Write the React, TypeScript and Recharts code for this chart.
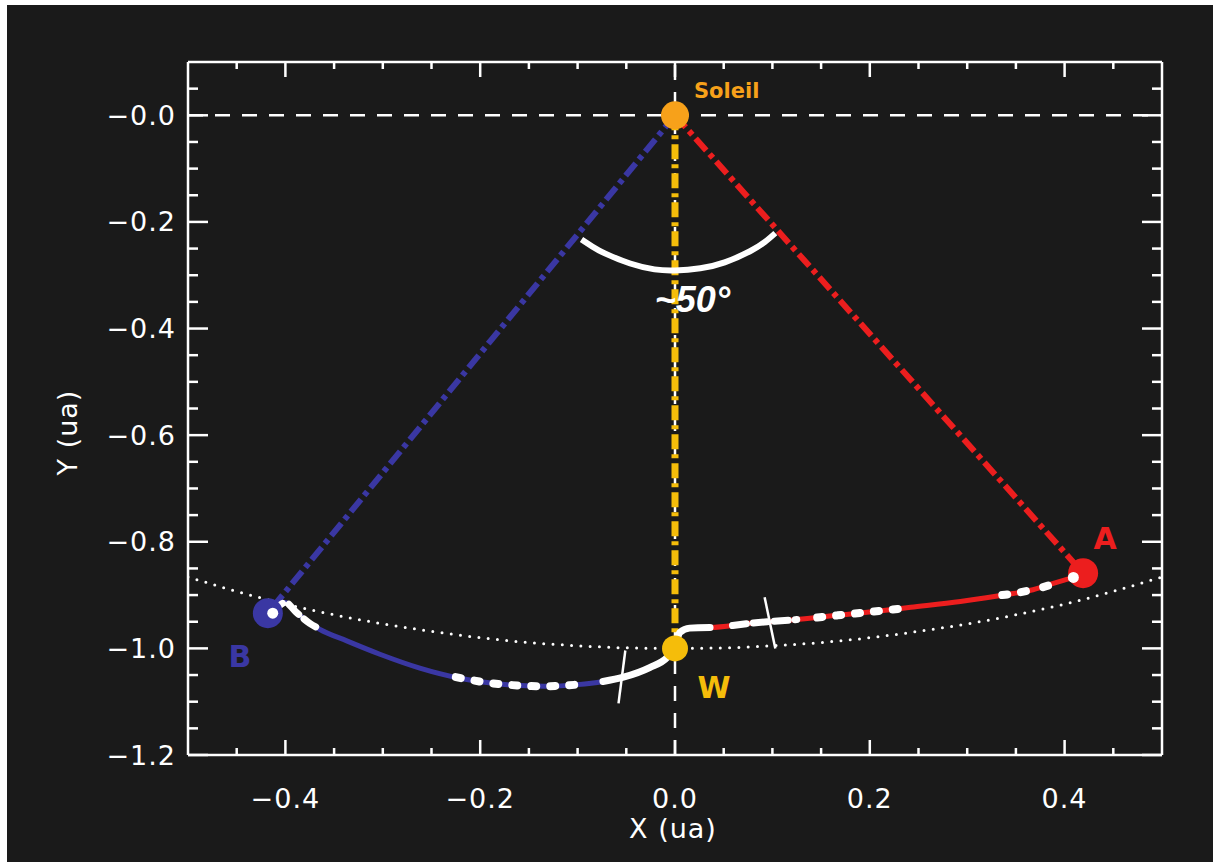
import { ComposedChart, Line, XAxis, YAxis, ReferenceLine, Scatter } from 'recharts'

// axis ticks
const xTicks = [-0.45, -0.4, -0.35, -0.3, -0.25, -0.2, -0.15, -0.1, -0.05, 0, 0.05, 0.1, 0.15, 0.2, 0.25, 0.3, 0.35, 0.4, 0.45]
const xMajor = [-0.4, -0.2, 0, 0.2, 0.4]
const yTicks = [0.05, 0, -0.05, -0.1, -0.15, -0.2, -0.25, -0.3, -0.35, -0.4, -0.45, -0.5, -0.55, -0.6, -0.65, -0.7, -0.75, -0.8, -0.85, -0.9, -0.95, -1.0, -1.05, -1.1, -1.15, -1.2]
const yMajor = [0, -0.2, -0.4, -0.6, -0.8, -1.0, -1.2]

// bodies
const bodyNames = ['Soleil', 'A', 'B', 'W']
const bodyX = [0, 0.419, -0.418, 0]
const bodyY = [0, -0.859, -0.934, -1.0]

// Earth orbit (dotted)
const orbitX = [-0.5, -0.45, -0.4, -0.35, -0.3, -0.25, -0.2, -0.15, -0.1, -0.05, 0, 0.05, 0.1, 0.15, 0.2, 0.25, 0.3, 0.35, 0.4, 0.45, 0.5]
const orbitY = [-0.866, -0.893, -0.917, -0.937, -0.954, -0.968, -0.98, -0.989, -0.995, -0.999, -1.0, -0.999, -0.995, -0.989, -0.98, -0.968, -0.954, -0.937, -0.917, -0.893, -0.866]

// angle arc (~50°)
const arcX = [-0.096, -0.085, -0.072, -0.046, -0.021, 0, 0.026, 0.051, 0.077, 0.092, 0.103]
const arcY = [-0.233, -0.246, -0.259, -0.278, -0.289, -0.291, -0.287, -0.276, -0.255, -0.238, -0.221]

// trajectory B -> W (blue)
const blueX = [-0.413, -0.4, -0.389, -0.375, -0.365, -0.337, -0.303, -0.262, -0.221, -0.18, -0.134, -0.1, -0.074, -0.053, -0.026, -0.008, 0]
const blueY = [-0.934, -0.914, -0.932, -0.953, -0.964, -0.986, -1.011, -1.037, -1.056, -1.067, -1.071, -1.068, -1.062, -1.054, -1.036, -1.017, -0.998]

// trajectory W -> A (red)
const redX = [0, 0.005, 0.015, 0.036, 0.077, 0.118, 0.167, 0.214, 0.242, 0.293, 0.341, 0.365, 0.385, 0.409]
const redY = [-0.998, -0.97, -0.962, -0.961, -0.953, -0.947, -0.938, -0.929, -0.923, -0.912, -0.899, -0.891, -0.88, -0.867]

// white overlays on the trajectories (null = gap)
const wDashX = [-0.413, -0.4, -0.389, -0.375, -0.364, -0.2, 0.059, 0.077, 0.118, 0.125]
const wDashY = [-0.934, -0.914, -0.932, -0.953, -0.964, null, -0.957, -0.953, -0.947, -0.946]
const wDotX = [-0.225, -0.18, -0.134, -0.1, 0.05, 0.146, 0.167, 0.214, 0.238, 0.3, 0.336, 0.341, 0.362, 0.37, 0.378, 0.393]
const wDotY = [-1.054, -1.067, -1.071, -1.068, null, -0.942, -0.938, -0.929, -0.924, null, -0.9, -0.899, -0.892, null, -0.885, -0.877]
const wSolidX = [-0.074, -0.053, -0.026, -0.008, 0, 0.005, 0.015, 0.036]
const wSolidY = [-1.062, -1.054, -1.036, -1.017, -0.998, -0.97, -0.962, -0.961]

// trajectory end points and crossing marks
const endX = [-0.413, 0.409]
const endY = [-0.934, -0.867]
const crossX1 = [-0.051, 0.092]
const crossY1 = [-1.004, -0.904]
const crossX2 = [-0.058, 0.103]
const crossY2 = [-1.103, -1.0]

const zip = (xs: number[], ys: (number | null)[]) => xs.map((x, i) => ({ x, y: ys[i] }))

const bodies = bodyNames.map((name, i) => ({ name, x: bodyX[i], y: bodyY[i] }))
const orbit = zip(orbitX, orbitY)
const arc = zip(arcX, arcY)
const blueTrack = zip(blueX, blueY)
const redTrack = zip(redX, redY)
const wDash = zip(wDashX, wDashY)
const wDot = zip(wDotX, wDotY)
const wSolid = zip(wSolidX, wSolidY)
const ends = zip(endX, endY)
const toSun = (i: number) => [{ x: bodyX[0], y: bodyY[0] }, { x: bodyX[i], y: bodyY[i] }]

const BG = '#1a1a1a'
const WHITE = '#ffffff'
const BLUE = '#3a37a3'
const RED = '#ec1e1e'
const YELLOW = '#f5bd0a'
const ORANGE = '#f7a11a'
const FONT = '"DejaVu Sans", sans-serif'

const bodyStyle: Record<string, any> = {
  Soleil: { color: ORANGE, r: 14, dx: 19, dy: -24, size: 21, anchor: 'start' },
  A: { color: RED, r: 15, dx: 22, dy: -35, size: 30, anchor: 'middle' },
  B: { color: BLUE, r: 15, dx: -28, dy: 43, size: 30, anchor: 'middle' },
  W: { color: YELLOW, r: 13, dx: 39, dy: 39, size: 30, anchor: 'middle' },
}

const near = (v: number, list: number[]) => list.some((m) => Math.abs(m - v) < 1e-6)
const fmt = (v: number) => (v < 0 ? '\u2212' : '') + Math.abs(v).toFixed(1)
const fmtY = (v: number) => '\u2212' + Math.abs(v).toFixed(1)

const tickText = { fill: WHITE, fontSize: 27, fontFamily: FONT, letterSpacing: 1 }

function BottomTick(props: any) {
  const { x, y, payload } = props
  const major = near(payload.value, xMajor)
  return (
    <g>
      <line x1={x} y1={y} x2={x} y2={y - (major ? 15 : 7)} stroke={WHITE} strokeWidth={2.5} />
      {major && (
        <text x={x} y={y + 43} textAnchor="middle" dominantBaseline="central" {...tickText}>
          {fmt(payload.value)}
        </text>
      )}
    </g>
  )
}

function TopTick(props: any) {
  const { x, y, payload } = props
  const major = near(payload.value, xMajor)
  return <line x1={x} y1={y} x2={x} y2={y + (major ? 15 : 7)} stroke={WHITE} strokeWidth={2.5} />
}

function LeftTick(props: any) {
  const { x, y, payload } = props
  const major = near(payload.value, yMajor)
  return (
    <g>
      <line x1={x} y1={y} x2={x + (major ? 20 : 10)} y2={y} stroke={WHITE} strokeWidth={2.5} />
      {major && (
        <text x={x - 12} y={y} textAnchor="end" dominantBaseline="central" {...tickText}>
          {fmtY(payload.value)}
        </text>
      )}
    </g>
  )
}

function RightTick(props: any) {
  const { x, y, payload } = props
  const major = near(payload.value, yMajor)
  return <line x1={x} y1={y} x2={x - (major ? 20 : 10)} y2={y} stroke={WHITE} strokeWidth={2.5} />
}

function BodyShape(props: any) {
  const { cx, cy, payload } = props
  const s = bodyStyle[payload.name]
  return (
    <g>
      <circle cx={cx} cy={cy} r={s.r} fill={s.color} />
      <text
        x={cx + s.dx}
        y={cy + s.dy}
        textAnchor={s.anchor}
        dominantBaseline="central"
        fill={s.color}
        fontSize={s.size}
        fontWeight="bold"
        fontFamily={FONT}
      >
        {payload.name}
      </text>
    </g>
  )
}

function EndDot(props: any) {
  const { cx, cy } = props
  return <circle cx={cx} cy={cy} r={5.5} fill={WHITE} />
}

function AngleLabel(props: any) {
  const { cx, cy } = props
  return (
    <text x={cx} y={cy} textAnchor="middle" dominantBaseline="central" fill={WHITE} fontSize={36} fontWeight="bold" fontStyle="italic" fontFamily='"Liberation Sans", sans-serif'>
      ~50°
    </text>
  )
}

const axisLine = { stroke: WHITE, strokeWidth: 2.5 }
const ids = { xAxisId: 'x', yAxisId: 'y' }

export default function App() {
  return (
    <div style={{ position: 'absolute', left: 0, top: 0, width: 1213, height: 866, background: '#fff' }}>
      <div style={{ position: 'absolute', left: 7, top: 5, width: 1206, height: 857, background: BG }} />
      <div style={{ position: 'absolute', left: 0, top: 0 }}>
        <ComposedChart width={1213} height={866} margin={{ top: 61, right: 50, bottom: 51, left: 68 }}>
          <XAxis
            xAxisId="x"
            type="number"
            dataKey="x"
            domain={[-0.5, 0.5]}
            allowDataOverflow
            ticks={xTicks}
            interval={0}
            tickSize={0}
            tickMargin={0}
            tickLine={false}
            axisLine={axisLine}
            tick={<BottomTick />}
            height={60}
            label={{
              content: (p: any) => (
                <text x={p.viewBox.x + p.viewBox.width / 2 - 2} y={p.viewBox.y + 73} textAnchor="middle" dominantBaseline="central" {...tickText}>
                  X (ua)
                </text>
              ),
            }}
          />
          <XAxis
            xAxisId="xt"
            orientation="top"
            type="number"
            dataKey="x"
            domain={[-0.5, 0.5]}
            allowDataOverflow
            ticks={xTicks}
            interval={0}
            tickSize={0}
            tickMargin={0}
            tickLine={false}
            axisLine={axisLine}
            tick={<TopTick />}
            height={1}
          />
          <YAxis
            yAxisId="y"
            type="number"
            dataKey="y"
            domain={[-1.2, 0.1]}
            allowDataOverflow
            ticks={yTicks}
            interval={0}
            tickSize={0}
            tickMargin={0}
            tickLine={false}
            axisLine={axisLine}
            tick={<LeftTick />}
            width={120}
            label={{
              content: (p: any) => {
                const cx = p.viewBox.x - 1
                const cy = p.viewBox.y + p.viewBox.height / 2 + 24
                return (
                  <text x={cx} y={cy} transform={`rotate(-90 ${cx} ${cy})`} textAnchor="middle" dominantBaseline="central" {...tickText}>
                    Y (ua)
                  </text>
                )
              },
            }}
          />
          <YAxis
            yAxisId="yr"
            orientation="right"
            type="number"
            dataKey="y"
            domain={[-1.2, 0.1]}
            allowDataOverflow
            ticks={yTicks}
            interval={0}
            tickSize={0}
            tickMargin={0}
            tickLine={false}
            axisLine={axisLine}
            tick={<RightTick />}
            width={1}
          />

          <ReferenceLine {...ids} y={0} stroke={WHITE} strokeWidth={2.5} strokeDasharray="15 12" />
          <ReferenceLine {...ids} x={0} stroke={WHITE} strokeWidth={2.5} strokeDasharray="15 12" />

          <Line {...ids} data={orbit} dataKey="y" type="monotone" stroke={WHITE} strokeWidth={3} strokeDasharray="0 9.3" strokeLinecap="round" dot={false} activeDot={false} isAnimationActive={false} />

          <Scatter {...ids} data={bodies} dataKey="y" shape={<BodyShape />} isAnimationActive={false} />

          <Line {...ids} data={toSun(2)} dataKey="y" type="linear" stroke={BLUE} strokeWidth={6} strokeDasharray="16 5 5 5" dot={false} activeDot={false} isAnimationActive={false} />
          <Line {...ids} data={toSun(1)} dataKey="y" type="linear" stroke={RED} strokeWidth={6} strokeDasharray="16 5 5 5" dot={false} activeDot={false} isAnimationActive={false} />
          <Line {...ids} data={toSun(3)} dataKey="y" type="linear" stroke={YELLOW} strokeWidth={7} strokeDasharray="15 5 4 5" dot={false} activeDot={false} isAnimationActive={false} />

          <Line {...ids} data={arc} dataKey="y" type="natural" stroke={WHITE} strokeWidth={6} dot={false} activeDot={false} isAnimationActive={false} />
          <Scatter {...ids} data={[{ x: 0.018, y: -0.345 }]} dataKey="y" shape={<AngleLabel />} isAnimationActive={false} />

          <Line {...ids} data={blueTrack} dataKey="y" type="monotone" stroke={BLUE} strokeWidth={5} dot={false} activeDot={false} isAnimationActive={false} />
          <Line {...ids} data={redTrack} dataKey="y" type="monotone" stroke={RED} strokeWidth={5} dot={false} activeDot={false} isAnimationActive={false} />

          <Line {...ids} data={wSolid} dataKey="y" type="monotone" stroke={WHITE} strokeWidth={7} strokeLinecap="round" dot={false} activeDot={false} isAnimationActive={false} />
          <Line {...ids} data={wDash} dataKey="y" type="monotone" stroke={WHITE} strokeWidth={7} strokeDasharray="14 7" strokeLinecap="round" dot={false} activeDot={false} isAnimationActive={false} />
          <Line {...ids} data={wDot} dataKey="y" type="monotone" stroke={WHITE} strokeWidth={8} strokeDasharray="5 14" strokeLinecap="round" dot={false} activeDot={false} isAnimationActive={false} />

          {crossX1.map((x, i) => (
            <ReferenceLine
              key={i}
              {...ids}
              segment={[{ x, y: crossY1[i] }, { x: crossX2[i], y: crossY2[i] }]}
              stroke={WHITE}
              strokeWidth={2.5}
            />
          ))}

          <Scatter {...ids} data={ends} dataKey="y" shape={<EndDot />} isAnimationActive={false} />
        </ComposedChart>
      </div>
    </div>
  )
}
